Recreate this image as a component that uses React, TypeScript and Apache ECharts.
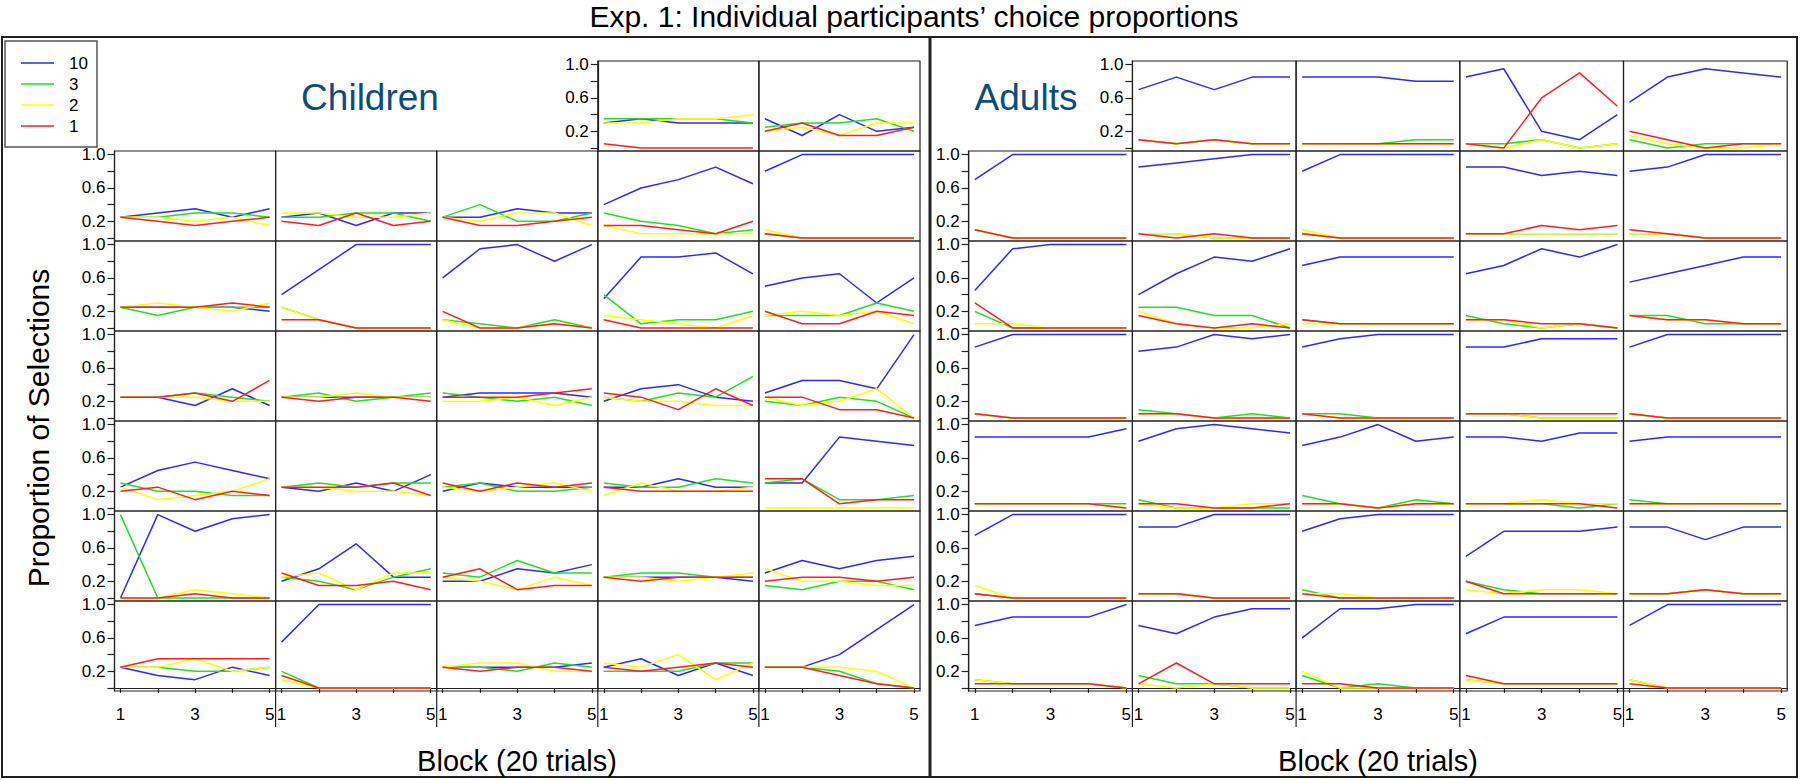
import React, { useEffect, useRef } from "react";
import * as echarts from "echarts";

// ---------------- data ----------------
const blocks = [1, 2, 3, 4, 5];
const yTickValues = [0, 0.2, 0.4, 0.6, 0.8, 1.0];
const yLabelValues = [0.2, 0.6, 1.0];
const xTickValues = [1, 2, 3, 4, 5];
const xLabelValues = [1, 3, 5];
const legendLabels = ["10", "3", "2", "1"];
const titleText = "Exp. 1: Individual participants\u2019 choice proportions";
const groupNames = ["Children", "Adults"];
const yAxisTitle = "Proportion of Selections";
const xAxisTitle = "Block (20 trials)";

// Children (32 participants), value 10 / 3 / 2 / 1
const children10 = [
  [0.30, 0.35, 0.30, 0.30, 0.30], [0.35, 0.15, 0.40, 0.20, 0.25],
  [0.25, 0.30, 0.35, 0.25, 0.35], [0.25, 0.30, 0.15, 0.30, 0.30], [0.25, 0.25, 0.35, 0.30, 0.30], [0.40, 0.60, 0.70, 0.85, 0.65], [0.80, 1, 1, 1, 1],
  [0.25, 0.25, 0.25, 0.25, 0.20], [0.40, 0.70, 1, 1, 1], [0.60, 0.95, 1, 0.80, 1], [0.35, 0.85, 0.85, 0.90, 0.65], [0.50, 0.60, 0.65, 0.30, 0.60],
  [0.25, 0.25, 0.15, 0.35, 0.15], [0.25, 0.25, 0.25, 0.25, 0.25], [0.25, 0.30, 0.30, 0.30, 0.25], [0.20, 0.35, 0.40, 0.25, 0.20], [0.30, 0.45, 0.45, 0.35, 1],
  [0.25, 0.45, 0.55, 0.45, 0.35], [0.25, 0.20, 0.30, 0.20, 0.40], [0.20, 0.30, 0.25, 0.25, 0.25], [0.25, 0.25, 0.35, 0.25, 0.25], [0.30, 0.30, 0.85, 0.80, 0.75],
  [0, 1, 0.80, 0.95, 1], [0.20, 0.35, 0.65, 0.25, 0.25], [0.20, 0.20, 0.35, 0.30, 0.40], [0.25, 0.25, 0.25, 0.25, 0.20], [0.30, 0.45, 0.35, 0.45, 0.50],
  [0.25, 0.15, 0.10, 0.25, 0.15], [0.55, 1, 1, 1, 1], [0.25, 0.25, 0.25, 0.25, 0.30], [0.25, 0.35, 0.15, 0.30, 0.15], [0.25, 0.25, 0.40, 0.70, 1],
];
const children3 = [
  [0.35, 0.35, 0.35, 0.35, 0.30], [0.25, 0.30, 0.30, 0.35, 0.20],
  [0.25, 0.25, 0.30, 0.30, 0.25], [0.25, 0.25, 0.30, 0.30, 0.20], [0.25, 0.40, 0.20, 0.20, 0.30], [0.30, 0.20, 0.15, 0.05, 0.10], [0.05, 0, 0, 0, 0],
  [0.25, 0.15, 0.25, 0.25, 0.25], [0.25, 0.10, 0, 0, 0], [0.10, 0.05, 0, 0.10, 0], [0.40, 0.05, 0.10, 0.10, 0.20], [0.15, 0.15, 0.15, 0.30, 0.20],
  [0.25, 0.25, 0.30, 0.25, 0.20], [0.25, 0.30, 0.20, 0.25, 0.30], [0.30, 0.25, 0.20, 0.25, 0.15], [0.25, 0.20, 0.30, 0.25, 0.50], [0.20, 0.15, 0.25, 0.20, 0],
  [0.30, 0.20, 0.20, 0.15, 0.15], [0.25, 0.30, 0.25, 0.30, 0.30], [0.25, 0.30, 0.20, 0.20, 0.25], [0.30, 0.25, 0.25, 0.35, 0.30], [0.30, 0.35, 0.10, 0.10, 0.15],
  [1, 0, 0, 0, 0], [0.25, 0.20, 0.10, 0.25, 0.35], [0.30, 0.25, 0.45, 0.30, 0.30], [0.25, 0.30, 0.30, 0.25, 0.25], [0.15, 0.10, 0.20, 0.20, 0.10],
  [0.25, 0.25, 0.20, 0.20, 0.25], [0.20, 0, 0, 0, 0], [0.25, 0.25, 0.20, 0.30, 0.25], [0.20, 0.20, 0.20, 0.30, 0.30], [0.25, 0.25, 0.20, 0.05, 0],
];
const children2 = [
  [0.30, 0.30, 0.35, 0.35, 0.40], [0.20, 0.25, 0.15, 0.30, 0.30],
  [0.25, 0.25, 0.20, 0.25, 0.15], [0.30, 0.30, 0.25, 0.25, 0.30], [0.25, 0.20, 0.30, 0.30, 0.15], [0.15, 0.05, 0.05, 0.05, 0.05], [0.10, 0, 0, 0, 0],
  [0.25, 0.30, 0.25, 0.20, 0.30], [0.25, 0.10, 0, 0, 0], [0.10, 0, 0, 0.05, 0], [0.15, 0.10, 0.05, 0, 0.15], [0.15, 0.20, 0.15, 0.20, 0.05],
  [0.25, 0.25, 0.25, 0.20, 0.20], [0.25, 0.25, 0.30, 0.25, 0.25], [0.20, 0.20, 0.25, 0.15, 0.25], [0.25, 0.20, 0.20, 0.15, 0.15], [0.25, 0.15, 0.20, 0.35, 0],
  [0.25, 0.10, 0.15, 0.20, 0.35], [0.25, 0.25, 0.20, 0.20, 0.15], [0.25, 0.20, 0.25, 0.30, 0.20], [0.15, 0.30, 0.20, 0.20, 0.25], [0, 0, 0, 0, 0],
  [0, 0, 0.10, 0.05, 0], [0.25, 0.30, 0.10, 0.30, 0.30], [0.25, 0.20, 0.10, 0.25, 0.15], [0.25, 0.25, 0.20, 0.25, 0.30], [0.35, 0.20, 0.20, 0.15, 0.15],
  [0.25, 0.25, 0.35, 0.20, 0.25], [0.10, 0, 0, 0, 0], [0.25, 0.30, 0.30, 0.20, 0.20], [0.30, 0.25, 0.40, 0.10, 0.30], [0.25, 0.25, 0.25, 0.20, 0],
];
const children1 = [
  [0.05, 0, 0, 0, 0], [0.20, 0.30, 0.15, 0.15, 0.25],
  [0.25, 0.20, 0.15, 0.20, 0.25], [0.20, 0.15, 0.30, 0.15, 0.20], [0.25, 0.15, 0.15, 0.20, 0.25], [0.15, 0.15, 0.10, 0.05, 0.20], [0.05, 0, 0, 0, 0],
  [0.25, 0.25, 0.25, 0.30, 0.25], [0.10, 0.10, 0, 0, 0], [0.20, 0, 0, 0.05, 0], [0.10, 0, 0, 0, 0], [0.20, 0.05, 0.05, 0.20, 0.15],
  [0.25, 0.25, 0.30, 0.20, 0.45], [0.25, 0.20, 0.25, 0.25, 0.20], [0.25, 0.25, 0.25, 0.30, 0.35], [0.30, 0.25, 0.10, 0.35, 0.15], [0.25, 0.25, 0.10, 0.10, 0],
  [0.20, 0.25, 0.10, 0.20, 0.15], [0.25, 0.25, 0.25, 0.30, 0.15], [0.30, 0.20, 0.30, 0.25, 0.30], [0.25, 0.20, 0.20, 0.20, 0.20], [0.35, 0.35, 0.05, 0.10, 0.10],
  [0, 0, 0.05, 0, 0], [0.30, 0.15, 0.15, 0.20, 0.10], [0.25, 0.35, 0.10, 0.15, 0.15], [0.25, 0.20, 0.25, 0.25, 0.25], [0.20, 0.25, 0.25, 0.20, 0.25],
  [0.25, 0.35, 0.35, 0.35, 0.35], [0.15, 0, 0, 0, 0], [0.25, 0.20, 0.25, 0.25, 0.20], [0.25, 0.20, 0.25, 0.30, 0.25], [0.25, 0.25, 0.15, 0.05, 0],
];

// Adults (34 participants)
const adults10 = [
  [0.70, 0.85, 0.70, 0.85, 0.85], [0.85, 0.85, 0.85, 0.80, 0.80], [0.85, 0.95, 0.20, 0.10, 0.40], [0.55, 0.85, 0.95, 0.90, 0.85],
  [0.70, 1, 1, 1, 1], [0.85, 0.90, 0.95, 1, 1], [0.80, 1, 1, 1, 1], [0.85, 0.85, 0.75, 0.80, 0.75], [0.80, 0.85, 1, 1, 1],
  [0.45, 0.95, 1, 1, 1], [0.40, 0.65, 0.85, 0.80, 0.95], [0.75, 0.85, 0.85, 0.85, 0.85], [0.65, 0.75, 0.95, 0.85, 1], [0.55, 0.65, 0.75, 0.85, 0.85],
  [0.85, 1, 1, 1, 1], [0.80, 0.85, 1, 0.95, 1], [0.85, 0.95, 1, 1, 1], [0.85, 0.85, 0.95, 0.95, 0.95], [0.85, 1, 1, 1, 1],
  [0.85, 0.85, 0.85, 0.85, 0.95], [0.80, 0.95, 1, 0.95, 0.90], [0.75, 0.85, 1, 0.80, 0.85], [0.85, 0.85, 0.80, 0.90, 0.90], [0.80, 0.85, 0.85, 0.85, 0.85],
  [0.75, 1, 1, 1, 1], [0.85, 0.85, 1, 1, 1], [0.80, 0.95, 1, 1, 1], [0.50, 0.80, 0.80, 0.80, 0.85], [0.85, 0.85, 0.70, 0.85, 0.85],
  [0.75, 0.85, 0.85, 0.85, 1], [0.75, 0.65, 0.85, 0.95, 0.95], [0.60, 0.95, 0.95, 1, 1], [0.65, 0.85, 0.85, 0.85, 0.85], [0.75, 1, 1, 1, 1],
];
const adults3 = [
  [0.10, 0.05, 0.10, 0.05, 0.05], [0.05, 0.05, 0.05, 0.10, 0.10], [0.05, 0.05, 0.10, 0, 0.05], [0.10, 0, 0.05, 0.05, 0.05],
  [0.10, 0, 0, 0, 0], [0.05, 0.05, 0, 0, 0], [0.05, 0, 0, 0, 0], [0.05, 0.05, 0.05, 0.05, 0.05], [0.05, 0.05, 0, 0, 0],
  [0.20, 0, 0, 0, 0], [0.25, 0.25, 0.15, 0.15, 0], [0.10, 0.05, 0.05, 0.05, 0.05], [0.15, 0.05, 0, 0.05, 0], [0.15, 0.15, 0.05, 0.05, 0.05],
  [0.05, 0, 0, 0, 0], [0.10, 0.05, 0, 0.05, 0], [0.05, 0.05, 0, 0, 0], [0.05, 0.05, 0, 0, 0], [0.05, 0, 0, 0, 0],
  [0.05, 0.05, 0.05, 0.05, 0.05], [0.10, 0, 0, 0, 0], [0.15, 0.05, 0, 0.10, 0.05], [0.05, 0.05, 0.05, 0, 0.05], [0.10, 0.05, 0.05, 0.05, 0.05],
  [0.05, 0, 0, 0, 0], [0.05, 0.05, 0, 0, 0], [0.10, 0, 0, 0, 0], [0.20, 0.10, 0.05, 0.05, 0.05], [0.05, 0.05, 0.10, 0.05, 0.05],
  [0.10, 0.05, 0.05, 0.05, 0], [0.15, 0.05, 0.05, 0, 0], [0.15, 0, 0.05, 0, 0], [0.10, 0.05, 0.05, 0.05, 0.05], [0.10, 0, 0, 0, 0],
];
const adults2 = [
  [0.10, 0.05, 0.10, 0.05, 0.05], [0.05, 0.05, 0.05, 0.05, 0.05], [0.05, 0, 0.10, 0, 0.05], [0.15, 0.05, 0, 0, 0.05],
  [0.10, 0, 0, 0, 0], [0.05, 0.05, 0, 0, 0], [0.10, 0, 0, 0, 0], [0.05, 0.05, 0.05, 0.05, 0.05], [0.05, 0.05, 0, 0, 0],
  [0.05, 0.05, 0, 0, 0], [0.20, 0.05, 0, 0, 0.05], [0.05, 0.05, 0.05, 0.05, 0.05], [0.10, 0.10, 0, 0.05, 0], [0.15, 0.10, 0.10, 0.05, 0.05],
  [0.05, 0, 0, 0, 0], [0.05, 0.05, 0, 0, 0], [0.05, 0, 0, 0, 0], [0.05, 0.05, 0, 0, 0], [0.05, 0, 0, 0, 0],
  [0.05, 0.05, 0.05, 0.05, 0], [0.05, 0, 0, 0.05, 0.05], [0.05, 0.05, 0, 0.05, 0.05], [0.05, 0.05, 0.10, 0.05, 0.05], [0.05, 0.05, 0.05, 0.05, 0.05],
  [0.15, 0, 0, 0, 0], [0.05, 0.05, 0, 0, 0], [0.05, 0.05, 0, 0, 0], [0.10, 0.05, 0.10, 0.10, 0.05], [0.05, 0.05, 0.10, 0.05, 0.05],
  [0.10, 0.05, 0.05, 0.05, 0], [0.05, 0, 0.05, 0, 0], [0.20, 0, 0, 0, 0], [0.10, 0.05, 0.05, 0.05, 0.05], [0.10, 0, 0, 0, 0],
];
const adults1 = [
  [0.10, 0.05, 0.10, 0.05, 0.05], [0.05, 0.05, 0.05, 0.05, 0.05], [0.05, 0, 0.60, 0.90, 0.50], [0.20, 0.10, 0, 0.05, 0.05],
  [0.10, 0, 0, 0, 0], [0.05, 0, 0.05, 0, 0], [0.05, 0, 0, 0, 0], [0.05, 0.05, 0.15, 0.10, 0.15], [0.10, 0.05, 0, 0, 0],
  [0.30, 0, 0, 0, 0], [0.15, 0.05, 0, 0.05, 0], [0.10, 0.05, 0.05, 0.05, 0.05], [0.10, 0.10, 0.05, 0.05, 0], [0.15, 0.10, 0.10, 0.05, 0.05],
  [0.05, 0, 0, 0, 0], [0.05, 0.05, 0, 0, 0], [0.05, 0, 0, 0, 0], [0.05, 0.05, 0.05, 0.05, 0.05], [0.05, 0, 0, 0, 0],
  [0.05, 0.05, 0.05, 0.05, 0], [0.05, 0.05, 0, 0, 0.05], [0.05, 0.05, 0, 0.05, 0.05], [0.05, 0.05, 0.05, 0.05, 0], [0.05, 0.05, 0.05, 0.05, 0.05],
  [0.05, 0, 0, 0, 0], [0.05, 0.05, 0, 0, 0], [0.05, 0, 0, 0, 0], [0.20, 0.05, 0.05, 0.05, 0.05], [0.05, 0.05, 0.10, 0.05, 0.05],
  [0.05, 0.05, 0.05, 0.05, 0], [0.05, 0.30, 0.05, 0.05, 0.05], [0.05, 0.05, 0, 0, 0], [0.15, 0.05, 0.05, 0.05, 0.05], [0.05, 0, 0, 0, 0],
];

// ---------------- style / layout ----------------
const FONT = "'Liberation Sans', Arial, Helvetica, sans-serif";
const LINE_COLORS = ["#2b2bff", "#22e022", "#ffff00", "#ff1f1f"];
const GROUP_COLOR = "#0e4c80";
const AXIS_COLOR = "#222";
const ROW_TOP = 61;
const ROW_H = 90;
const Y_MIN = -0.036;
const Y_MAX = 1.043;
const X_MIN = 0.84;
const X_MAX = 5.16;

const panels = [
  { left: 114.5, colW: 161.1, firstRowStartCol: 3, series: [children10, children3, children2, children1] },
  { left: 968.7, colW: 163.7, firstRowStartCol: 1, series: [adults10, adults3, adults2, adults1] },
];

function buildOption() {
  const grid: any[] = [];
  const xAxis: any[] = [];
  const yAxis: any[] = [];
  const series: any[] = [];
  const graphic: any[] = [];

  panels.forEach((p) => {
    const n = p.series[0].length;
    const firstRowCount = 5 - p.firstRowStartCol;
    for (let i = 0; i < n; i++) {
      let row: number, col: number;
      if (i < firstRowCount) {
        row = 0;
        col = p.firstRowStartCol + i;
      } else {
        row = 1 + Math.floor((i - firstRowCount) / 5);
        col = (i - firstRowCount) % 5;
      }
      const gi = grid.length;
      const showY = row === 0 ? col === p.firstRowStartCol : col === 0;
      const showX = row === 6;
      grid.push({
        left: p.left + col * p.colW,
        top: ROW_TOP + row * ROW_H,
        width: p.colW,
        height: ROW_H,
        show: true,
        borderColor: AXIS_COLOR,
        borderWidth: 1.2,
        containLabel: false,
      });
      xAxis.push({
        type: "value",
        gridIndex: gi,
        min: X_MIN,
        max: X_MAX,
        show: showX,
        axisLine: { show: true, lineStyle: { color: AXIS_COLOR, width: 1.2 } },
        axisTick: { show: true, length: 5, customValues: xTickValues, lineStyle: { color: AXIS_COLOR, width: 1.2 } },
        axisLabel: {
          show: true,
          customValues: xLabelValues,
          formatter: (v: number) => String(Math.round(v)),
          fontSize: 17,
          color: "#000",
          fontFamily: FONT,
          margin: 15,
        },
        splitLine: { show: false },
      });
      yAxis.push({
        type: "value",
        gridIndex: gi,
        min: Y_MIN,
        max: Y_MAX,
        show: showY,
        axisLine: { show: true, lineStyle: { color: AXIS_COLOR, width: 1.2 } },
        axisTick: { show: true, length: 7, customValues: yTickValues, lineStyle: { color: AXIS_COLOR, width: 1.2 } },
        axisLabel: {
          show: true,
          customValues: yLabelValues,
          formatter: (v: number) => v.toFixed(1),
          fontSize: 17,
          color: "#000",
          fontFamily: FONT,
          margin: 9,
        },
        splitLine: { show: false },
      });
      p.series.forEach((arr, k) => {
        series.push({
          type: "line",
          name: legendLabels[k],
          xAxisIndex: gi,
          yAxisIndex: gi,
          data: blocks.map((b, j) => [b, arr[i][j]]),
          showSymbol: false,
          symbol: "none",
          lineStyle: { color: LINE_COLORS[k], width: 1.5 },
          itemStyle: { color: LINE_COLORS[k] },
          clip: false,
          silent: true,
          z: 2 + k,
        });
      });
    }
    // separators below the bottom row between columns
    for (let c = 1; c < 5; c++) {
      const x = p.left + c * p.colW;
      graphic.push({
        type: "line",
        shape: { x1: x, y1: ROW_TOP + 7 * ROW_H, x2: x, y2: ROW_TOP + 7 * ROW_H + 36 },
        style: { stroke: AXIS_COLOR, lineWidth: 1.2 },
      });
    }
  });

  // frames
  graphic.push(
    { type: "rect", shape: { x: 2, y: 37, width: 928, height: 740 }, style: { fill: "none", stroke: AXIS_COLOR, lineWidth: 2 } },
    { type: "rect", shape: { x: 930, y: 37, width: 867, height: 740 }, style: { fill: "none", stroke: AXIS_COLOR, lineWidth: 2 } },
    { type: "line", shape: { x1: 930, y1: 37, x2: 930, y2: 777 }, style: { stroke: AXIS_COLOR, lineWidth: 3 } }
  );

  // title
  graphic.push({
    type: "text",
    x: 914,
    y: 16,
    style: { text: titleText, fontSize: 30, fontFamily: FONT, fill: "#000", textAlign: "center", textVerticalAlign: "middle" },
  });
  // group names
  graphic.push(
    { type: "text", x: 370, y: 97, style: { text: groupNames[0], fontSize: 37, fontFamily: FONT, fill: GROUP_COLOR, textAlign: "center", textVerticalAlign: "middle" } },
    { type: "text", x: 1026, y: 97, style: { text: groupNames[1], fontSize: 37, fontFamily: FONT, fill: GROUP_COLOR, textAlign: "center", textVerticalAlign: "middle" } }
  );
  // axis titles
  graphic.push(
    { type: "text", x: 38, y: 428, rotation: Math.PI / 2, style: { text: yAxisTitle, fontSize: 30, fontFamily: FONT, fill: "#000", textAlign: "center", textVerticalAlign: "middle" } },
    { type: "text", x: 517, y: 761, style: { text: xAxisTitle, fontSize: 29, fontFamily: FONT, fill: "#000", textAlign: "center", textVerticalAlign: "middle" } },
    { type: "text", x: 1378, y: 761, style: { text: xAxisTitle, fontSize: 29, fontFamily: FONT, fill: "#000", textAlign: "center", textVerticalAlign: "middle" } }
  );
  // legend
  graphic.push({ type: "rect", shape: { x: 5, y: 41, width: 92, height: 106 }, style: { fill: "#fff", stroke: "#555", lineWidth: 1.5 }, z: 10 });
  legendLabels.forEach((lab, k) => {
    const y = 63 + k * 21;
    graphic.push(
      { type: "line", shape: { x1: 21, y1: y, x2: 54, y2: y }, style: { stroke: LINE_COLORS[k], lineWidth: 1.5 }, z: 11 },
      { type: "text", x: 69, y, style: { text: lab, fontSize: 17, fontFamily: FONT, fill: "#000", textAlign: "left", textVerticalAlign: "middle" }, z: 11 }
    );
  });

  return {
    animation: false,
    backgroundColor: "#fff",
    grid,
    xAxis,
    yAxis,
    series,
    graphic,
  };
}

export default function App() {
  const ref = useRef<HTMLDivElement>(null);
  useEffect(() => {
    document.body.style.margin = "0";
    if (!ref.current) return;
    const chart = echarts.init(ref.current, null, { renderer: "svg" });
    chart.setOption(buildOption() as any);
    return () => chart.dispose();
  }, []);
  return <div ref={ref} style={{ position: "absolute", left: 0, top: 0, width: 1800, height: 780 }} />;
}
